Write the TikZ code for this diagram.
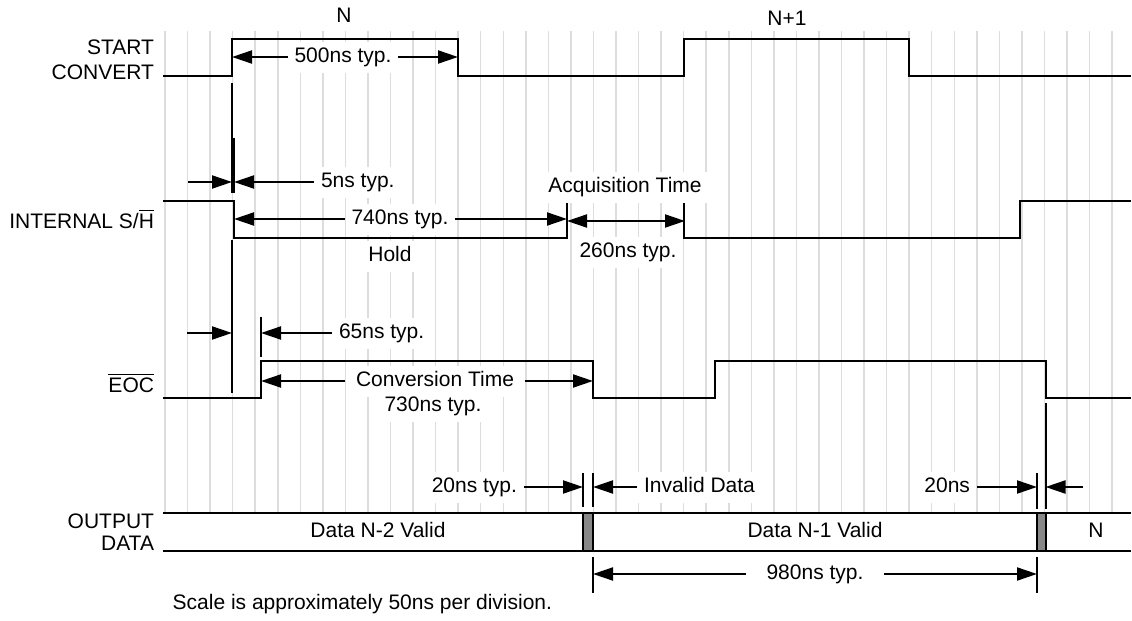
\documentclass[tikz,border=0pt]{standalone}
\usepackage{fontspec}
\setmainfont{Liberation Sans}
\usetikzlibrary{arrows.meta}

\definecolor{gridgray}{RGB}{221,221,221}
\definecolor{invalidgray}{RGB}{136,136,136}

\begin{document}
\begin{tikzpicture}[x=0.5pt,y=-0.5pt,line width=1pt,
    font=\fontsize{10.5}{12.5}\selectfont,
    grid line/.style={draw=gridgray,line width=0.75pt},
    dim/.style={-{Triangle[length=10pt,width=6.5pt]}},
    dimboth/.style={{Triangle[length=10pt,width=6.5pt]}-{Triangle[length=10pt,width=6.5pt]}},
    txt/.style={fill=white,inner sep=3pt,text height=7.5pt,text depth=2pt},
    sig name/.style={anchor=east,align=right,inner sep=0pt}]

  \useasboundingbox (0,0) rectangle (1132,621);

  % 50ns grid
  \foreach \k in {0,...,42}
    \draw[grid line] (165+\k*22.55,31) -- (165+\k*22.55,512);

  % signal names
  \node[sig name] (lstart) at (155,60) {START\\CONVERT};
  \node[sig name] (lsh) at (155,219) {INTERNAL S/$\overline{\mbox{H}}$};
  \node[sig name] (leoc) at (155,383) {$\overline{\mbox{EOC}}$};
  \node[sig name,font=\fontsize{10.5}{10.8}\selectfont] (ldata) at (155,532) {OUTPUT\\DATA};
  \node (nN) at (344,15) {N};
  \node (nN1) at (787,18) {N+1};

  % waveforms
  \draw (163,75.5) -| (232,39) -| (458,75.5) -| (684,39) -| (909,75.5) -- (1131,75.5);
  \draw (163,201) -| (234,237.5) -| (567,201) -| (684,237.5) -| (1020,201) -- (1131,201);
  \draw (163,397.5) -| (261,361) -| (593,397.5) -| (715,361) -| (1045.5,397.5) -- (1131,397.5);
  \draw (163,512.5) -- (1131,512.5);
  \draw (163,550.5) -- (1131,550.5);
  \draw[fill=invalidgray] (583,512.5) rectangle (593,550.5);
  \draw[fill=invalidgray] (1037,512.5) rectangle (1045.5,550.5);

  % extension lines
  \draw (232,83) -- (232,193);
  \draw (234,138) -- (234,193);
  \draw (232,240) -- (232,393);
  \draw (261,317) -- (261,357);
  \draw (583,473) -- (583,507);
  \draw (593,473) -- (593,507);
  \draw (1037,473) -- (1037,509);
  \draw (1045.5,403) -- (1045.5,509);
  \draw (593,557) -- (593,593);
  \draw (1037,557) -- (1037,593);

  % START CONVERT
  \node[txt] (n500) at (343,57) {500ns typ.};
  \coordinate (n500l) at (232,57);
  \coordinate (n500r) at (458,57);
  \draw[dim] (n500) -- (n500l);
  \draw[dim] (n500) -- (n500r);

  % S/H
  \coordinate (a5a) at (188,182);
  \coordinate (a5b) at (232,182);
  \coordinate (a5c) at (234,182);
  \draw[dim] (a5a) -- (a5b);
  \node[txt,anchor=west] (n5) at (314,182) {5ns typ.};
  \draw[dim] (n5) -- (a5c);
  \node[txt] (n740) at (400,219) {740ns typ.};
  \coordinate (a740l) at (234,219);
  \coordinate (a740r) at (567,219);
  \draw[dim] (n740) -- (a740l);
  \draw[dim] (n740) -- (a740r);
  \node[txt] (nhold) at (390,256) {Hold};
  \node[txt] (nacq) at (625,187) {Acquisition Time};
  \coordinate (a260l) at (567,221);
  \coordinate (a260r) at (685,221);
  \draw[dimboth] (a260l) -- (a260r);
  \node[txt] (n260) at (628,252) {260ns typ.};

  % EOC
  \coordinate (a65a) at (187,333);
  \coordinate (a65b) at (232,333);
  \coordinate (a65c) at (261,333);
  \draw[dim] (a65a) -- (a65b);
  \node[txt,anchor=west] (n65) at (332,333) {65ns typ.};
  \draw[dim] (n65) -- (a65c);
  \node[txt,inner xsep=5pt] (nconv) at (435,381) {Conversion Time};
  \coordinate (aconvl) at (261,381);
  \coordinate (aconvr) at (593,381);
  \draw[dim] (nconv) -- (aconvl);
  \draw[dim] (nconv) -- (aconvr);
  \node[txt] (n730) at (433,406) {730ns typ.};

  % OUTPUT DATA
  \node[txt,anchor=east] (n20t) at (524,487) {20ns typ.};
  \coordinate (a20a) at (583,487);
  \coordinate (a20b) at (593,487);
  \draw[dim] (n20t) -- (a20a);
  \node[txt,anchor=west] (ninv) at (637,487) {Invalid Data};
  \draw[dim] (ninv) -- (a20b);
  \node[txt,anchor=east] (n20) at (977,487) {20ns};
  \coordinate (a20c) at (1037,487);
  \coordinate (a20d) at (1045.5,487);
  \coordinate (a20e) at (1083,487);
  \draw[dim] (n20) -- (a20c);
  \draw[dim] (a20e) -- (a20d);
  \node[txt] (dn2) at (378,532) {Data N-2 Valid};
  \node[txt] (dn1) at (815,532) {Data N-1 Valid};
  \node[txt] (dn) at (1096,532) {N};
  \node[txt,inner xsep=10pt] (n980) at (815,574) {980ns typ.};
  \coordinate (a980l) at (593,574);
  \coordinate (a980r) at (1037,574);
  \draw[dim] (n980) -- (a980l);
  \draw[dim] (n980) -- (a980r);

  \node[anchor=west] (lscale) at (165,604) {Scale is approximately 50ns per division.};
\end{tikzpicture}
\end{document}
